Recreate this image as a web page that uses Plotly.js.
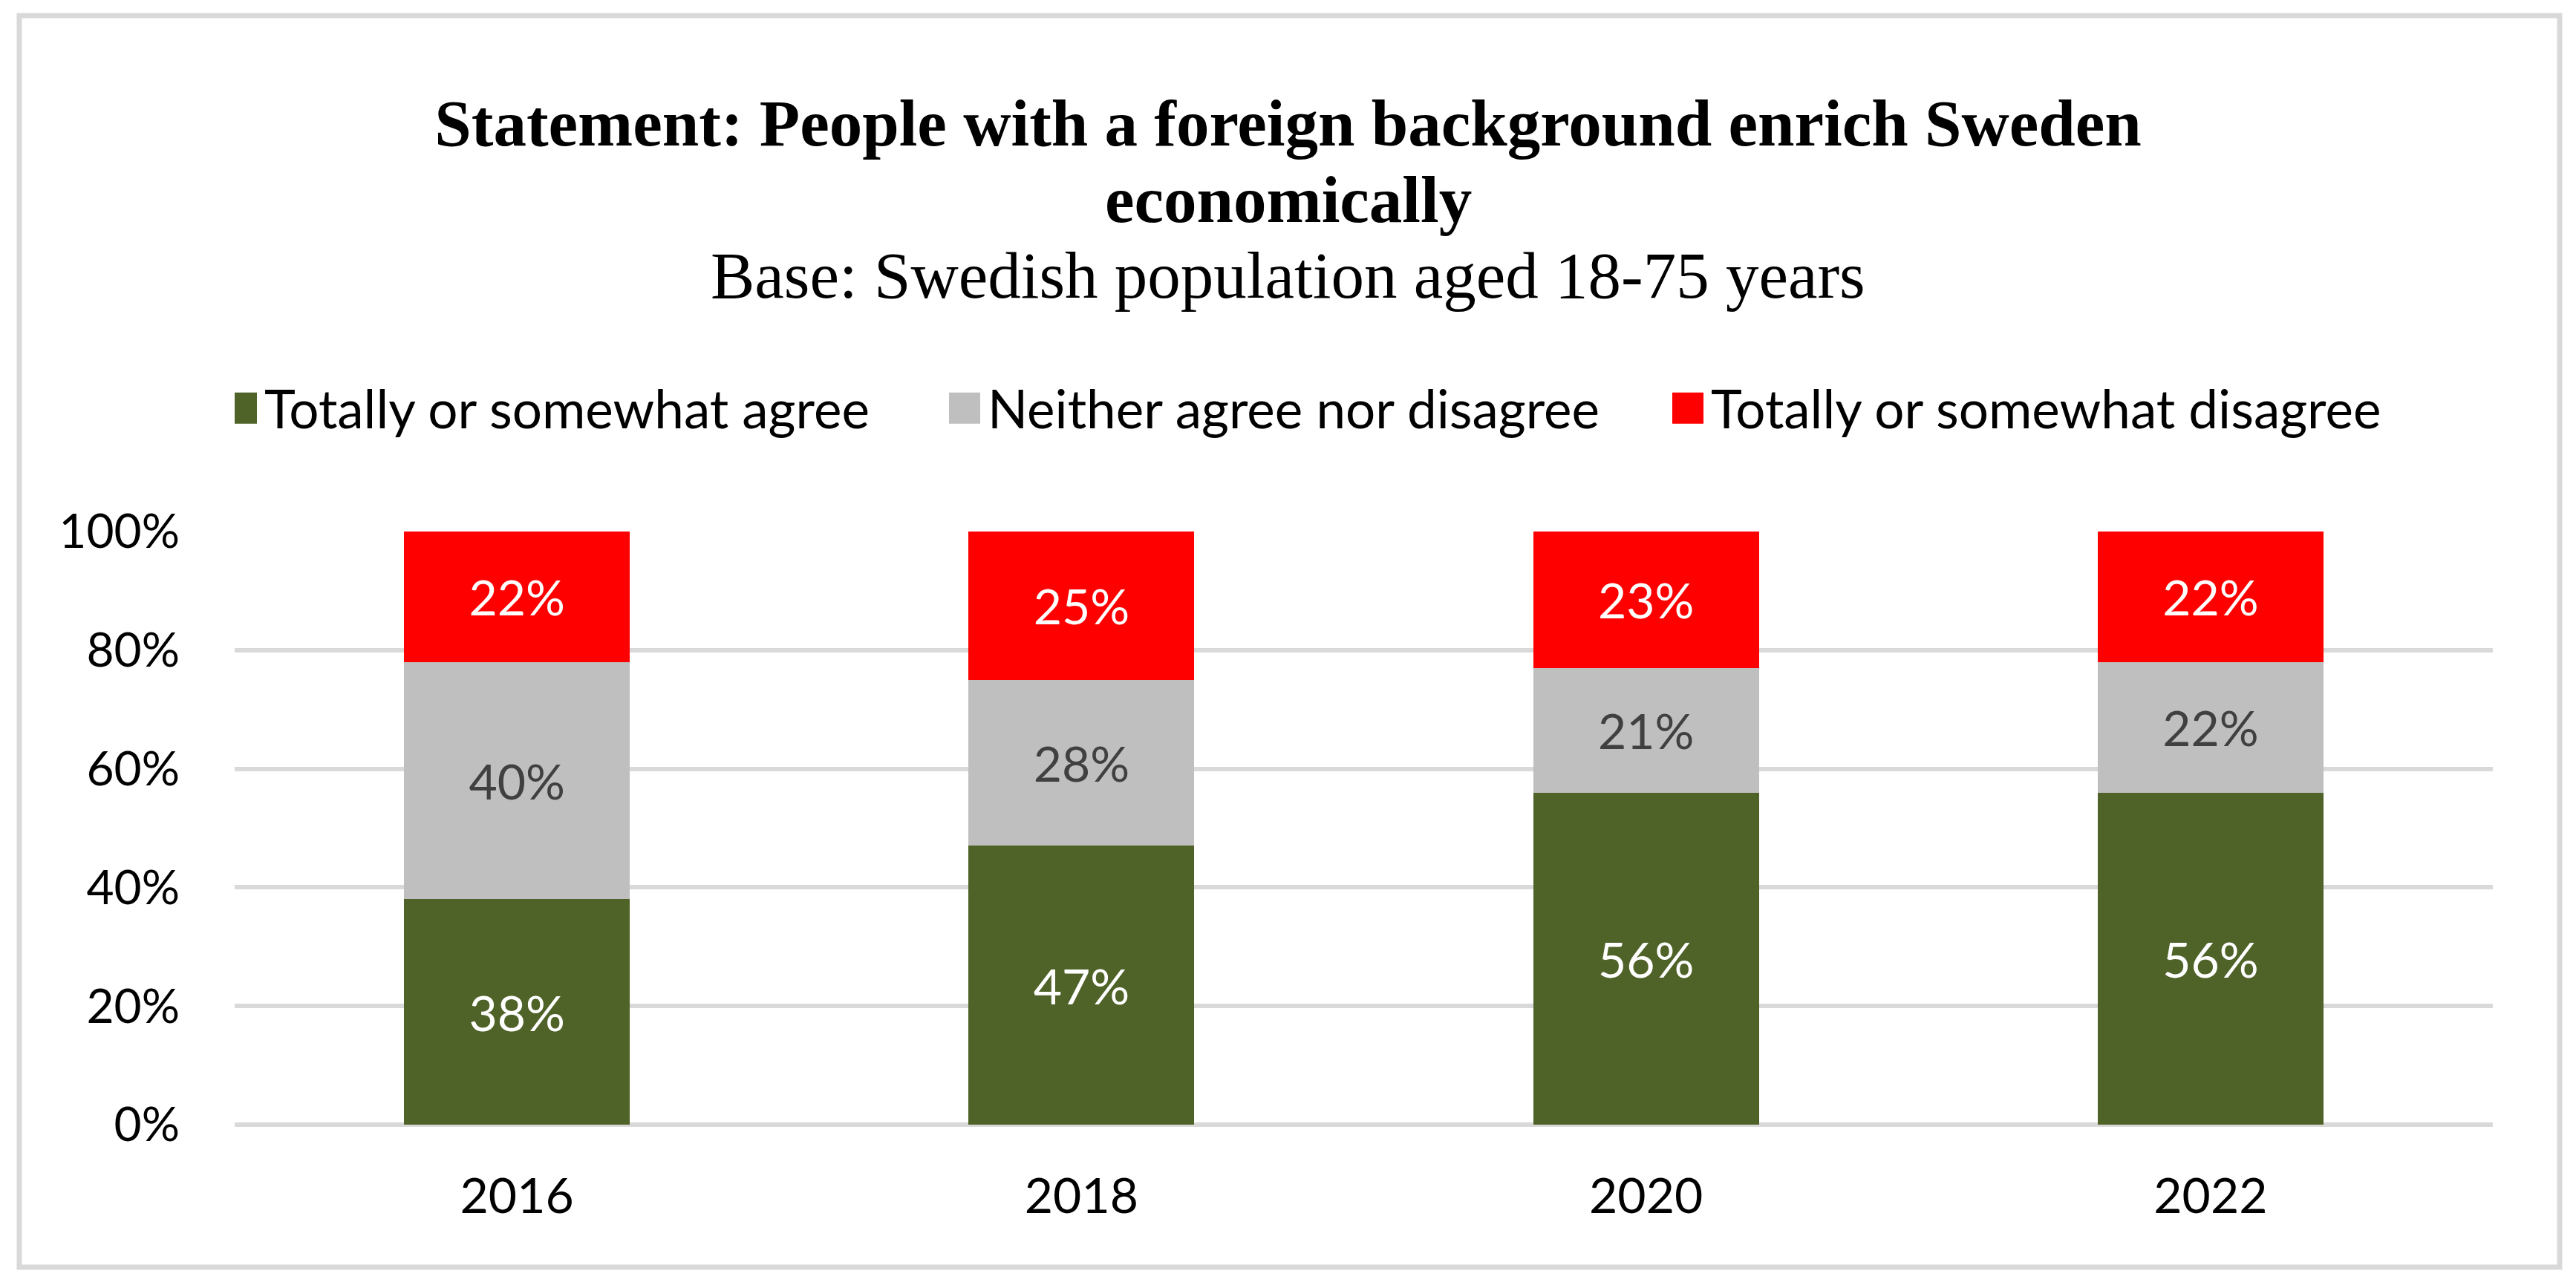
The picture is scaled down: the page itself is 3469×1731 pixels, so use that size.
<!DOCTYPE html>
<html>
<head>
<meta charset="utf-8">
<script src="https://cdn.plot.ly/plotly-3.0.1.min.js"></script>
<style>
  html, body { margin: 0; padding: 0; background: #ffffff; }
  #chart { width: 3469px; height: 1731px; }
</style>
</head>
<body>
<div id="chart"></div>
<script>
// ---- data ----
const years = ["2016", "2018", "2020", "2022"];
const agree = [38, 47, 56, 56];
const neither = [40, 28, 21, 22];
const disagree = [22, 25, 23, 22];
const seriesNames = ["Totally or somewhat agree", "Neither agree nor disagree", "Totally or somewhat disagree"];
const yTicks = [0, 20, 40, 60, 80, 100];
const yTickLabels = ["0%", "20%", "40%", "60%", "80%", "100%"];
const titleLine1 = "Statement: People with a foreign background enrich Sweden";
const titleLine2 = "economically";
const subtitleText = "Base: Swedish population aged 18-75 years";

const sansFont = "Lato, 'Open Sans', sans-serif";
const serifFont = "'Liberation Serif', 'DejaVu Serif', serif";

// plot-area pixel helpers (for placing title lines / frame in paper space)
const PLOT_TOP = 716, PLOT_BOTTOM = 1515, PLOT_LEFT = 316, PLOT_W = 3041;
const py = p => (PLOT_BOTTOM - p) / (PLOT_BOTTOM - PLOT_TOP);
const px = p => (p - PLOT_LEFT) / PLOT_W;

function barTrace(name, values, color, textColor) {
  return {
    type: "bar",
    name: name,
    x: years,
    y: values,
    marker: { color: color },
    text: values.map(v => v + "%"),
    textposition: "inside",
    insidetextanchor: "middle",
    textangle: 0,
    constraintext: "none",
    textfont: { family: sansFont, size: 66, color: textColor },
    hoverinfo: "skip"
  };
}

const data = [
  barTrace(seriesNames[0], agree, "#4F6228", "#FFFFFF"),
  barTrace(seriesNames[1], neither, "#BFBFBF", "#404040"),
  barTrace(seriesNames[2], disagree, "#FF0000", "#FFFFFF")
];

const layout = {
  width: 3469,
  height: 1731,
  paper_bgcolor: "#FFFFFF",
  plot_bgcolor: "#FFFFFF",
  margin: { l: 316, r: 112, t: 716, b: 216, pad: 0 },
  barmode: "stack",
  bargap: 0.6,
  showlegend: true,
  title: {
    text: "<b>" + titleLine1 + "</b>",
    font: { family: serifFont, size: 89, color: "#000000" },
    x: 0.5,
    xanchor: "center",
    xref: "container",
    y: 1 - 165 / 1731,
    yref: "container",
    yanchor: "middle"
  },
  annotations: [
    {
      text: "<b>" + titleLine2 + "</b>",
      xref: "paper", yref: "paper",
      x: px(1734.5), y: py(269),
      xanchor: "center", yanchor: "middle",
      showarrow: false,
      font: { family: serifFont, size: 89, color: "#000000" }
    },
    {
      text: subtitleText,
      xref: "paper", yref: "paper",
      x: px(1734.5), y: py(371),
      xanchor: "center", yanchor: "middle",
      showarrow: false,
      font: { family: serifFont, size: 89, color: "#000000" }
    }
  ],
  legend: {
    orientation: "h",
    x: 0,
    xanchor: "left",
    y: py(550),
    yanchor: "middle",
    traceorder: "normal",
    entrywidth: 929,
    entrywidthmode: "pixels",
    font: { family: sansFont, size: 71, color: "#000000" },
    bgcolor: "rgba(0,0,0,0)",
    borderwidth: 0
  },
  xaxis: {
    type: "category",
    categoryorder: "array",
    categoryarray: years,
    showgrid: false,
    showline: false,
    zeroline: false,
    ticks: "",
    ticklabelstandoff: 52,
    tickfont: { family: sansFont, size: 66, color: "#000000" },
    fixedrange: true
  },
  yaxis: {
    range: [0, 100],
    tickmode: "array",
    tickvals: yTicks,
    ticktext: yTickLabels,
    showgrid: true,
    gridcolor: "#D9D9D9",
    gridwidth: 6,
    zeroline: true,
    zerolinecolor: "#D9D9D9",
    zerolinewidth: 6,
    showline: false,
    ticks: "",
    ticklabelstandoff: 73,
    tickfont: { family: sansFont, size: 64, color: "#000000" },
    fixedrange: true
  },
  shapes: [
    {
      type: "rect",
      xref: "paper",
      yref: "paper",
      x0: px(26),
      x1: px(3447),
      y0: py(1707),
      y1: py(21),
      line: { color: "#D9D9D9", width: 7 },
      fillcolor: "rgba(0,0,0,0)",
      layer: "below"
    }
  ]
};

const gd = document.getElementById("chart");
function enlargeLegendKeys() {
  // enlarge the legend colour swatches to match the reference's square keys
  gd.querySelectorAll("g.legendpoints path").forEach(function (p) {
    p.setAttribute("d", "M10,21H-32V-21H10Z");
  });
}
Plotly.newPlot(gd, data, layout, { displayModeBar: false, staticPlot: true }).then(function () {
  enlargeLegendKeys();
  gd.on("plotly_afterplot", enlargeLegendKeys);
  setTimeout(enlargeLegendKeys, 0);
  setTimeout(enlargeLegendKeys, 200);
  setTimeout(enlargeLegendKeys, 800);
});
</script>
</body>
</html>
